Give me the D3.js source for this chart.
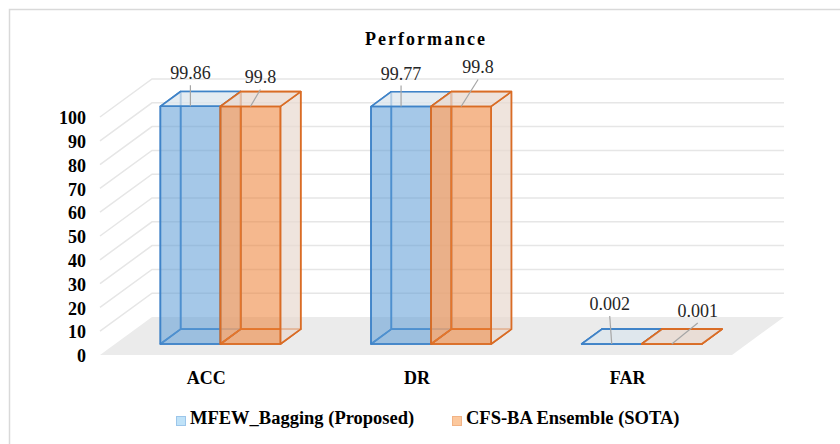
<!DOCTYPE html>
<html>
<head>
<meta charset="utf-8">
<script src="https://cdn.jsdelivr.net/npm/d3@7"></script>
<style>
  body { margin: 0; background: #fff; }
  svg { display: block; }
  text { font-family: "Liberation Serif", "DejaVu Serif", serif; }
</style>
</head>
<body>
<div id="chart"></div>
<script>
const categories = ["ACC", "DR", "FAR"];
const seriesNames = ["MFEW_Bagging (Proposed)", "CFS-BA Ensemble (SOTA)"];
const proposed = [99.86, 99.77, 0.002];
const sota = [99.8, 99.8, 0.001];
const yTicks = [0, 10, 20, 30, 40, 50, 60, 70, 80, 90, 100];

// where the data labels were dragged to in the original: [dx, rise above bar top]
const labelNudge = [
  [[0, 27], [10, 23]],
  [[0, 27], [17, 33]],
  [[-2, 34], [26, 27]]
];

const width = 840, height = 444;
const depthX = 52, depthY = -38;   // full floor depth offset
const z0 = 0.29, z1 = 0.68;        // bar depth within the floor
const serif = "'Liberation Serif', 'DejaVu Serif', serif";

const styles = [
  { stroke: "#3f83c8", front: "#5b9bd5", top: "#dbe5ee", legendFill: "#bfe2f8", legendStroke: "#9cc6ea" },
  { stroke: "#d96c25", front: "#ed7d31", top: "#e8d8cf", legendFill: "#fcc89d", legendStroke: "#f2b385" }
];

const svg = d3.select("#chart").append("svg")
  .attr("width", width)
  .attr("height", height);

// chart frame
svg.append("rect")
  .attr("x", 9.5).attr("y", 9.5)
  .attr("width", 840).attr("height", 440)
  .attr("fill", "none")
  .attr("stroke", "#d9d9d9")
  .attr("stroke-width", 1.5);

svg.append("text")
  .attr("x", 426).attr("y", 45)
  .attr("text-anchor", "middle")
  .style("font-family", serif)
  .style("font-size", "18px")
  .style("font-weight", "bold")
  .style("letter-spacing", "2px")
  .text("Performance");

const y = d3.scaleLinear().domain([0, 100]).range([355, 117]);

const x0 = d3.scaleBand()
  .domain(categories)
  .range([100, 732])
  .paddingInner(0.43)
  .paddingOuter(0.215);

const x1 = d3.scaleBand()
  .domain(seriesNames)
  .range([0, x0.bandwidth()]);

// project (x, value, depth) into screen space
function P(x, v, z) {
  return [x + depthX * z, y(v) + depthY * z];
}
function poly(pts) {
  return pts.map(p => p.join(",")).join(" ");
}

const xa = x0.range()[0], xb = x0.range()[1];

// side wall + back wall gridlines
const grid = svg.append("g");
yTicks.filter(t => t > 0).forEach(t => {
  const a = P(xa, t, 0), b = P(xa, t, 1), c = P(xb, t, 1);
  grid.append("polyline")
    .attr("points", poly([a, b, c]))
    .attr("fill", "none")
    .attr("stroke", "#e6e6e6")
    .attr("stroke-width", 1.5);
});

// floor
svg.append("polygon")
  .attr("points", poly([P(xa, 0, 0), P(xb, 0, 0), P(xb, 0, 1), P(xa, 0, 1)]))
  .attr("fill", "#ebebeb");

// y axis labels
svg.append("g")
  .attr("transform", "translate(86,1)")
  .call(d3.axisLeft(y).tickValues(yTicks).tickSize(0).tickPadding(0))
  .call(g => g.select(".domain").remove())
  .selectAll("text")
  .style("font-family", serif)
  .style("font-size", "18px")
  .style("font-weight", "bold")
  .attr("fill", "#000");

// category labels
svg.append("g")
  .attr("transform", "translate(1,371)")
  .call(d3.axisBottom(x0).tickSize(0).tickPadding(0))
  .call(g => g.select(".domain").remove())
  .selectAll("text")
  .style("font-family", serif)
  .style("font-size", "18px")
  .style("font-weight", "bold")
  .attr("fill", "#000");

const series = [proposed, sota];
const bars = svg.append("g");
const labels = svg.append("g");

categories.forEach((cat, ci) => {
  series.forEach((vals, si) => {
    const v = vals[ci];
    const st = styles[si];
    const left = x0(cat) + x1(seriesNames[si]);
    const right = left + x1.bandwidth();
    const g = bars.append("g")
      .attr("stroke", st.stroke)
      .attr("stroke-width", 1.6)
      .attr("stroke-linejoin", "round");

    // hidden edges first, they show through the transparent faces
    g.append("polygon")
      .attr("points", poly([P(left, 0, z1), P(right, 0, z1), P(right, v, z1), P(left, v, z1)]))
      .attr("fill", "none");
    g.append("polygon")
      .attr("points", poly([P(left, 0, z0), P(left, 0, z1), P(left, v, z1), P(left, v, z0)]))
      .attr("fill", "none");
    g.append("polygon")
      .attr("points", poly([P(left, 0, z0), P(right, 0, z0), P(right, 0, z1), P(left, 0, z1)]))
      .attr("fill", "none");
    // right side
    g.append("polygon")
      .attr("points", poly([P(right, 0, z0), P(right, 0, z1), P(right, v, z1), P(right, v, z0)]))
      .attr("fill", st.top)
      .attr("fill-opacity", 0.7);
    // top
    g.append("polygon")
      .attr("points", poly([P(left, v, z0), P(right, v, z0), P(right, v, z1), P(left, v, z1)]))
      .attr("fill", st.top)
      .attr("fill-opacity", 0.75);
    // front
    g.append("polygon")
      .attr("points", poly([P(left, 0, z0), P(right, 0, z0), P(right, v, z0), P(left, v, z0)]))
      .attr("fill", st.front)
      .attr("fill-opacity", 0.55);

    // data label with leader line
    const tip = P((left + right) / 2, v, z0);
    const nd = labelNudge[ci][si];
    const lx = tip[0] + nd[0], ly = tip[1] - nd[1];
    labels.append("line")
      .attr("x1", lx).attr("y1", ly + 6)
      .attr("x2", tip[0]).attr("y2", tip[1])
      .attr("stroke", "#a6a6a6")
      .attr("stroke-width", 1.2);
    labels.append("text")
      .attr("x", lx).attr("y", ly)
      .attr("text-anchor", "middle")
      .style("font-family", serif)
      .style("font-size", "18px")
      .attr("fill", "#262626")
      .text(v);
  });
});

// legend
const legendX = [176, 452];
const legend = svg.append("g");
seriesNames.forEach((name, i) => {
  legend.append("rect")
    .attr("x", legendX[i] + 0.5).attr("y", 416.5)
    .attr("width", 9).attr("height", 9)
    .attr("fill", styles[i].legendFill)
    .attr("stroke", styles[i].legendStroke);
  legend.append("text")
    .attr("x", legendX[i] + 14).attr("y", 424)
    .style("font-family", serif)
    .style("font-size", "18.5px")
    .style("font-weight", "bold")
    .attr("fill", "#000")
    .text(name);
});
</script>
</body>
</html>
